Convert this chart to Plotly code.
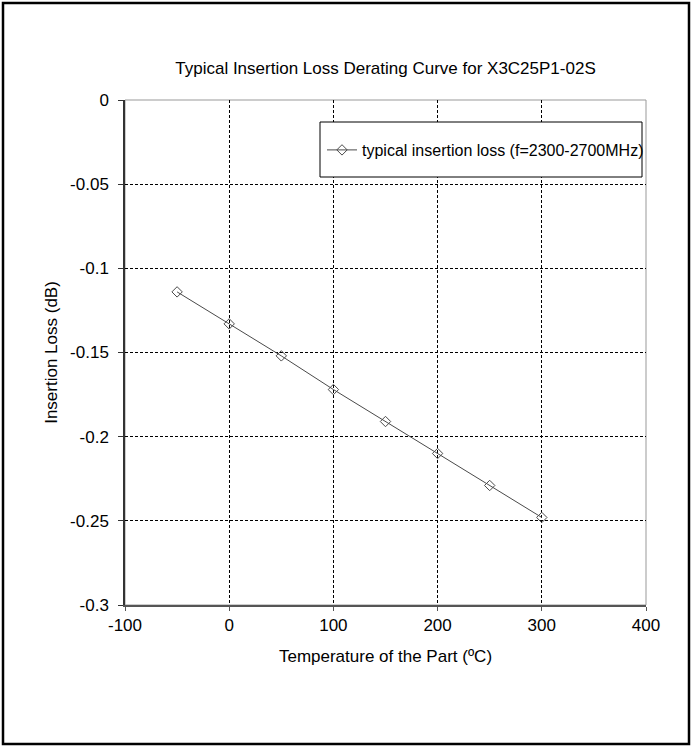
import plotly.graph_objects as go

temps = [-50, 0, 50, 100, 150, 200, 250, 300]
loss = [-0.114, -0.133, -0.152, -0.172, -0.191, -0.210, -0.229, -0.248]
x_ticks = [-100, 0, 100, 200, 300, 400]
x_tick_text = ["-100", "0", "100", "200", "300", "400"]
y_ticks = [0, -0.05, -0.1, -0.15, -0.2, -0.25, -0.3]
y_tick_text = ["0", "-0.05", "-0.1", "-0.15", "-0.2", "-0.25", "-0.3"]
series_name = "typical insertion loss (f=2300-2700MHz)"
title = "Typical Insertion Loss Derating Curve for X3C25P1-02S"
x_title = "Temperature of the Part (\u00baC)"
y_title = "Insertion Loss (dB)"

FONT = "Arial, 'Liberation Sans', sans-serif"
W, H = 692, 746
L, R, T, B = 125, 46, 100, 141
pw, ph = W - L - R, H - T - B


def px_x(p):
    return (p - L) / pw


def px_y(p):
    return (T + ph - p) / ph


fig = go.Figure()
fig.add_trace(go.Scatter(
    x=temps, y=loss, mode="lines+markers", name=series_name,
    line=dict(color="#4a4a4a", width=1),
    marker=dict(symbol="diamond-open", size=8, color="#4a4a4a", line=dict(width=1)),
))

fig.update_layout(
    width=W, height=H,
    margin=dict(l=L, r=R, t=T, b=B),
    paper_bgcolor="white", plot_bgcolor="white",
    font=dict(family=FONT, size=17, color="#000000"),
    title=dict(text=title, x=(L + pw / 2) / W, xanchor="center",
               y=1 - 68 / H, yanchor="middle", font=dict(size=17)),
    showlegend=True,
    legend=dict(x=px_x(322), xanchor="left", y=px_y(150), yanchor="middle",
                borderwidth=0, bgcolor="rgba(0,0,0,0)",
                font=dict(size=16), itemwidth=30),
    xaxis=dict(range=[-100, 400], tickvals=x_ticks, ticktext=x_tick_text,
               showgrid=True, gridcolor="#000000", griddash="3px,2px", gridwidth=1,
               zeroline=False, showline=True, linecolor="#555555", linewidth=1.5,
               mirror=False, ticks="outside", ticklen=4, tickcolor="#555555",
               title=dict(text=x_title, standoff=16, font=dict(size=17)),
               tickfont=dict(size=17)),
    yaxis=dict(range=[-0.3, 0], tickvals=y_ticks, ticktext=y_tick_text,
               showgrid=True, gridcolor="#000000", griddash="3px,2px", gridwidth=1,
               zeroline=False, showline=True, linecolor="#333333", linewidth=1.5,
               mirror=False, ticks="outside", ticklen=5, tickcolor="#333333",
               ticklabelstandoff=6,
               title=dict(text=y_title, standoff=8, font=dict(size=17)),
               tickfont=dict(size=17)),
)

# plot-area border on top/right (gray)
fig.add_shape(type="rect", xref="paper", yref="paper", x0=0, x1=1, y0=0, y1=1,
              line=dict(color="#999999", width=1), layer="below")
# legend box
fig.add_shape(type="rect", xref="paper", yref="paper",
              x0=px_x(320), x1=px_x(642), y0=px_y(177), y1=px_y(122),
              line=dict(color="#000000", width=1), fillcolor="white", layer="above")
# outer chart frame
fig.add_shape(type="rect", xref="paper", yref="paper",
              x0=px_x(3), x1=px_x(689), y0=px_y(744), y1=px_y(3),
              line=dict(color="#000000", width=2.5))

fig.write_html("out.html", config={"displayModeBar": False},
               post_script="document.body.style.margin='0';")
